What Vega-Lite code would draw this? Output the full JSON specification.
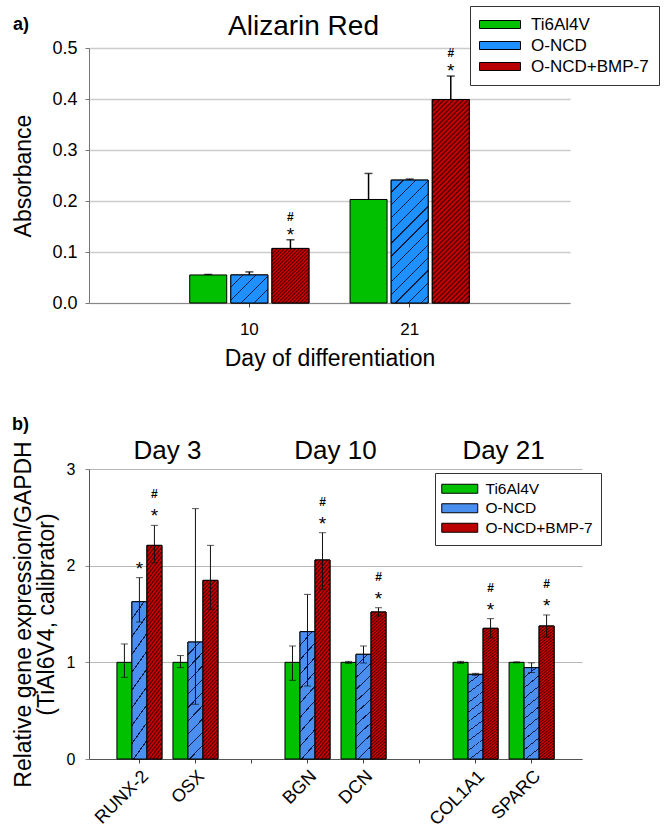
{
"$schema": "https://vega.github.io/schema/vega-lite/v6.json",
"padding": {"left": 12, "top": 5, "right": 2, "bottom": 0},
"spacing": 45,
"resolve": {"scale": {"color": "independent", "xOffset": "independent"}},
"config": {
  "font": "Liberation Sans",
  "view": {"stroke": null},
  "axis": {"labelFont": "Liberation Sans", "titleFont": "Liberation Sans", "labelColor": "#000", "titleColor": "#000"},
  "legend": {"labelFont": "Liberation Sans", "labelColor": "#000"},
  "title": {"font": "Liberation Sans", "color": "#000"},
  "text": {"font": "Liberation Sans", "color": "#000"}
},
"vconcat": [
{
  "title": {"text": "a)", "anchor": "start", "frame": "bounds", "fontSize": 18, "fontWeight": "bold", "offset": 0, "dy": 28},
  "resolve": {"scale": {"color": "independent", "xOffset": "independent"}},
  "vconcat": [
  {
    "width": 481,
    "height": 255,
    "title": {"text": "Alizarin Red", "fontSize": 28, "fontWeight": "normal", "anchor": "middle", "dx": -26, "dy": 43, "offset": 8},
    "data": {"values": [
      {"day": "10", "group": "Ti6Al4V", "value": 0.055, "upper": 0.056, "star": "", "hash": ""},
      {"day": "10", "group": "O-NCD", "value": 0.055, "upper": 0.061, "star": "", "hash": ""},
      {"day": "10", "group": "O-NCD+BMP-7", "value": 0.107, "upper": 0.124, "star": "*", "hash": "#"},
      {"day": "21", "group": "Ti6Al4V", "value": 0.203, "upper": 0.254, "star": "", "hash": ""},
      {"day": "21", "group": "O-NCD", "value": 0.241, "upper": 0.243, "star": "", "hash": ""},
      {"day": "21", "group": "O-NCD+BMP-7", "value": 0.399, "upper": 0.445, "star": "*", "hash": "#"}
    ]},
    "encoding": {
      "x": {"field": "day", "type": "nominal", "scale": {"paddingInner": 0, "paddingOuter": 0.5}, "title": "Day of differentiation",
            "axis": {"labelAngle": 0, "labelFontSize": 17, "tickSize": 4, "labelPadding": 14, "domainColor": "#888", "tickColor": "#444", "titleFontSize": 23, "titleFontWeight": "normal", "titlePadding": 10}},
      "xOffset": {"field": "group", "type": "nominal", "scale": {"domain": ["Ti6Al4V", "O-NCD", "O-NCD+BMP-7"], "paddingInner": 0.1, "paddingOuter": 0.5}}
    },
    "layer": [
      {"mark": {"type": "bar", "stroke": "#000", "strokeWidth": 1},
       "encoding": {
         "y": {"field": "value", "type": "quantitative", "scale": {"domain": [0, 0.5], "nice": false}, "title": "Absorbance",
               "axis": {"values": [0, 0.1, 0.2, 0.3, 0.4, 0.5], "format": ".1f", "labelFontSize": 18, "tickSize": 4, "labelPadding": 8, "gridColor": "#cccccc", "gridWidth": 1.5, "domainColor": "#777", "tickColor": "#777", "titleFontSize": 23, "titleFontWeight": "normal", "titlePadding": 16}},
         "color": {"field": "group", "type": "nominal", "scale": {"domain": ["Ti6Al4V", "O-NCD", "O-NCD+BMP-7"], "range": ["#00c000", "#1e90ff", "#b80000"]},
           "legend": {"orient": "none", "legendX": 381, "legendY": -42, "title": null, "strokeColor": "#333", "fillColor": "#fff", "padding": 10,
             "symbolType": "M-1.8,-0.8H6.4V0.8H-1.8Z", "symbolSize": 100, "symbolStrokeColor": "#000", "symbolStrokeWidth": 1, "labelFontSize": 17, "labelOffset": 34, "rowPadding": 3}}
       }},
      {"transform": [{"filter": "datum.day === '10' && datum.group === 'O-NCD'"}],
       "mark": {"type": "bar", "stroke": "#000", "strokeWidth": 1, "fill": {"gradient": "linear", "x1": 0, "y1": 0, "x2": 1.12, "y2": 0.84, "stops": [
         {"offset": 0, "color": "#1e90ff"}, {"offset": 0.18, "color": "#1e90ff"}, {"offset": 0.18, "color": "#0a1a40"}, {"offset": 0.2, "color": "#0a1a40"},
         {"offset": 0.2, "color": "#1e90ff"}, {"offset": 0.38, "color": "#1e90ff"}, {"offset": 0.38, "color": "#0a1a40"}, {"offset": 0.4, "color": "#0a1a40"},
         {"offset": 0.4, "color": "#1e90ff"}, {"offset": 0.58, "color": "#1e90ff"}, {"offset": 0.58, "color": "#0a1a40"}, {"offset": 0.6, "color": "#0a1a40"},
         {"offset": 0.6, "color": "#1e90ff"}, {"offset": 0.78, "color": "#1e90ff"}, {"offset": 0.78, "color": "#0a1a40"}, {"offset": 0.8, "color": "#0a1a40"},
         {"offset": 0.8, "color": "#1e90ff"}, {"offset": 0.98, "color": "#1e90ff"}, {"offset": 0.98, "color": "#0a1a40"}, {"offset": 1, "color": "#0a1a40"}]}},
       "encoding": {"y": {"field": "value", "type": "quantitative"}}},
      {"transform": [{"filter": "datum.day === '21' && datum.group === 'O-NCD'"}],
       "mark": {"type": "bar", "stroke": "#000", "strokeWidth": 1, "fill": {"gradient": "linear", "x1": 0, "y1": 0, "x2": 0.3594, "y2": 1.193, "stops": [
         {"offset": 0, "color": "#1e90ff"}, {"offset": 0.072, "color": "#1e90ff"}, {"offset": 0.072, "color": "#0a1a40"}, {"offset": 0.08, "color": "#0a1a40"},
         {"offset": 0.08, "color": "#1e90ff"}, {"offset": 0.152, "color": "#1e90ff"}, {"offset": 0.152, "color": "#0a1a40"}, {"offset": 0.16, "color": "#0a1a40"},
         {"offset": 0.16, "color": "#1e90ff"}, {"offset": 0.232, "color": "#1e90ff"}, {"offset": 0.232, "color": "#0a1a40"}, {"offset": 0.24, "color": "#0a1a40"},
         {"offset": 0.24, "color": "#1e90ff"}, {"offset": 0.312, "color": "#1e90ff"}, {"offset": 0.312, "color": "#0a1a40"}, {"offset": 0.32, "color": "#0a1a40"},
         {"offset": 0.32, "color": "#1e90ff"}, {"offset": 0.392, "color": "#1e90ff"}, {"offset": 0.392, "color": "#0a1a40"}, {"offset": 0.4, "color": "#0a1a40"},
         {"offset": 0.4, "color": "#1e90ff"}, {"offset": 0.472, "color": "#1e90ff"}, {"offset": 0.472, "color": "#0a1a40"}, {"offset": 0.48, "color": "#0a1a40"},
         {"offset": 0.48, "color": "#1e90ff"}, {"offset": 0.552, "color": "#1e90ff"}, {"offset": 0.552, "color": "#0a1a40"}, {"offset": 0.56, "color": "#0a1a40"},
         {"offset": 0.56, "color": "#1e90ff"}, {"offset": 0.632, "color": "#1e90ff"}, {"offset": 0.632, "color": "#0a1a40"}, {"offset": 0.64, "color": "#0a1a40"},
         {"offset": 0.64, "color": "#1e90ff"}, {"offset": 0.712, "color": "#1e90ff"}, {"offset": 0.712, "color": "#0a1a40"}, {"offset": 0.72, "color": "#0a1a40"},
         {"offset": 0.72, "color": "#1e90ff"}, {"offset": 0.792, "color": "#1e90ff"}, {"offset": 0.792, "color": "#0a1a40"}, {"offset": 0.8, "color": "#0a1a40"},
         {"offset": 0.8, "color": "#1e90ff"}, {"offset": 0.872, "color": "#1e90ff"}, {"offset": 0.872, "color": "#0a1a40"}, {"offset": 0.88, "color": "#0a1a40"},
         {"offset": 0.88, "color": "#1e90ff"}, {"offset": 0.952, "color": "#1e90ff"}, {"offset": 0.952, "color": "#0a1a40"}, {"offset": 0.96, "color": "#0a1a40"},
         {"offset": 0.96, "color": "#1e90ff"}, {"offset": 1, "color": "#1e90ff"}]}},
       "encoding": {"y": {"field": "value", "type": "quantitative"}}},
      {"transform": [{"filter": "datum.day === '10' && datum.group === 'O-NCD+BMP-7'"}],
       "mark": {"type": "bar", "stroke": "#000", "strokeWidth": 1, "fill": {"gradient": "linear", "x1": 0, "y1": 0, "x2": 0.7789, "y2": 1.1497, "stops": [
         {"offset": 0, "color": "#e60000"}, {"offset": 0.02, "color": "#480000"}, {"offset": 0.04, "color": "#e60000"}, {"offset": 0.06, "color": "#480000"},
         {"offset": 0.08, "color": "#e60000"}, {"offset": 0.1, "color": "#480000"}, {"offset": 0.12, "color": "#e60000"}, {"offset": 0.14, "color": "#480000"},
         {"offset": 0.16, "color": "#e60000"}, {"offset": 0.18, "color": "#480000"}, {"offset": 0.2, "color": "#e60000"}, {"offset": 0.22, "color": "#480000"},
         {"offset": 0.24, "color": "#e60000"}, {"offset": 0.26, "color": "#480000"}, {"offset": 0.28, "color": "#e60000"}, {"offset": 0.3, "color": "#480000"},
         {"offset": 0.32, "color": "#e60000"}, {"offset": 0.34, "color": "#480000"}, {"offset": 0.36, "color": "#e60000"}, {"offset": 0.38, "color": "#480000"},
         {"offset": 0.4, "color": "#e60000"}, {"offset": 0.42, "color": "#480000"}, {"offset": 0.44, "color": "#e60000"}, {"offset": 0.46, "color": "#480000"},
         {"offset": 0.48, "color": "#e60000"}, {"offset": 0.5, "color": "#480000"}, {"offset": 0.52, "color": "#e60000"}, {"offset": 0.54, "color": "#480000"},
         {"offset": 0.56, "color": "#e60000"}, {"offset": 0.58, "color": "#480000"}, {"offset": 0.6, "color": "#e60000"}, {"offset": 0.62, "color": "#480000"},
         {"offset": 0.64, "color": "#e60000"}, {"offset": 0.66, "color": "#480000"}, {"offset": 0.68, "color": "#e60000"}, {"offset": 0.7, "color": "#480000"},
         {"offset": 0.72, "color": "#e60000"}, {"offset": 0.74, "color": "#480000"}, {"offset": 0.76, "color": "#e60000"}, {"offset": 0.78, "color": "#480000"},
         {"offset": 0.8, "color": "#e60000"}, {"offset": 0.82, "color": "#480000"}, {"offset": 0.84, "color": "#e60000"}, {"offset": 0.86, "color": "#480000"},
         {"offset": 0.88, "color": "#e60000"}, {"offset": 0.9, "color": "#480000"}, {"offset": 0.92, "color": "#e60000"}, {"offset": 0.94, "color": "#480000"},
         {"offset": 0.96, "color": "#e60000"}, {"offset": 0.98, "color": "#480000"}, {"offset": 1, "color": "#e60000"}]}},
       "encoding": {"y": {"field": "value", "type": "quantitative"}}},
      {"transform": [{"filter": "datum.day === '21' && datum.group === 'O-NCD+BMP-7'"}],
       "mark": {"type": "bar", "stroke": "#000", "strokeWidth": 1, "fill": {"gradient": "linear", "x1": 0, "y1": 0, "x2": 0.208, "y2": 1.144, "stops": [
         {"offset": 0, "color": "#e60000"}, {"offset": 0.01, "color": "#480000"}, {"offset": 0.02, "color": "#e60000"}, {"offset": 0.03, "color": "#480000"},
         {"offset": 0.04, "color": "#e60000"}, {"offset": 0.05, "color": "#480000"}, {"offset": 0.06, "color": "#e60000"}, {"offset": 0.07, "color": "#480000"},
         {"offset": 0.08, "color": "#e60000"}, {"offset": 0.09, "color": "#480000"}, {"offset": 0.1, "color": "#e60000"}, {"offset": 0.11, "color": "#480000"},
         {"offset": 0.12, "color": "#e60000"}, {"offset": 0.13, "color": "#480000"}, {"offset": 0.14, "color": "#e60000"}, {"offset": 0.15, "color": "#480000"},
         {"offset": 0.16, "color": "#e60000"}, {"offset": 0.17, "color": "#480000"}, {"offset": 0.18, "color": "#e60000"}, {"offset": 0.19, "color": "#480000"},
         {"offset": 0.2, "color": "#e60000"}, {"offset": 0.21, "color": "#480000"}, {"offset": 0.22, "color": "#e60000"}, {"offset": 0.23, "color": "#480000"},
         {"offset": 0.24, "color": "#e60000"}, {"offset": 0.25, "color": "#480000"}, {"offset": 0.26, "color": "#e60000"}, {"offset": 0.27, "color": "#480000"},
         {"offset": 0.28, "color": "#e60000"}, {"offset": 0.29, "color": "#480000"}, {"offset": 0.3, "color": "#e60000"}, {"offset": 0.31, "color": "#480000"},
         {"offset": 0.32, "color": "#e60000"}, {"offset": 0.33, "color": "#480000"}, {"offset": 0.34, "color": "#e60000"}, {"offset": 0.35, "color": "#480000"},
         {"offset": 0.36, "color": "#e60000"}, {"offset": 0.37, "color": "#480000"}, {"offset": 0.38, "color": "#e60000"}, {"offset": 0.39, "color": "#480000"},
         {"offset": 0.4, "color": "#e60000"}, {"offset": 0.41, "color": "#480000"}, {"offset": 0.42, "color": "#e60000"}, {"offset": 0.43, "color": "#480000"},
         {"offset": 0.44, "color": "#e60000"}, {"offset": 0.45, "color": "#480000"}, {"offset": 0.46, "color": "#e60000"}, {"offset": 0.47, "color": "#480000"},
         {"offset": 0.48, "color": "#e60000"}, {"offset": 0.49, "color": "#480000"}, {"offset": 0.5, "color": "#e60000"}, {"offset": 0.51, "color": "#480000"},
         {"offset": 0.52, "color": "#e60000"}, {"offset": 0.53, "color": "#480000"}, {"offset": 0.54, "color": "#e60000"}, {"offset": 0.55, "color": "#480000"},
         {"offset": 0.56, "color": "#e60000"}, {"offset": 0.57, "color": "#480000"}, {"offset": 0.58, "color": "#e60000"}, {"offset": 0.59, "color": "#480000"},
         {"offset": 0.6, "color": "#e60000"}, {"offset": 0.61, "color": "#480000"}, {"offset": 0.62, "color": "#e60000"}, {"offset": 0.63, "color": "#480000"},
         {"offset": 0.64, "color": "#e60000"}, {"offset": 0.65, "color": "#480000"}, {"offset": 0.66, "color": "#e60000"}, {"offset": 0.67, "color": "#480000"},
         {"offset": 0.68, "color": "#e60000"}, {"offset": 0.69, "color": "#480000"}, {"offset": 0.7, "color": "#e60000"}, {"offset": 0.71, "color": "#480000"},
         {"offset": 0.72, "color": "#e60000"}, {"offset": 0.73, "color": "#480000"}, {"offset": 0.74, "color": "#e60000"}, {"offset": 0.75, "color": "#480000"},
         {"offset": 0.76, "color": "#e60000"}, {"offset": 0.77, "color": "#480000"}, {"offset": 0.78, "color": "#e60000"}, {"offset": 0.79, "color": "#480000"},
         {"offset": 0.8, "color": "#e60000"}, {"offset": 0.81, "color": "#480000"}, {"offset": 0.82, "color": "#e60000"}, {"offset": 0.83, "color": "#480000"},
         {"offset": 0.84, "color": "#e60000"}, {"offset": 0.85, "color": "#480000"}, {"offset": 0.86, "color": "#e60000"}, {"offset": 0.87, "color": "#480000"},
         {"offset": 0.88, "color": "#e60000"}, {"offset": 0.89, "color": "#480000"}, {"offset": 0.9, "color": "#e60000"}, {"offset": 0.91, "color": "#480000"},
         {"offset": 0.92, "color": "#e60000"}, {"offset": 0.93, "color": "#480000"}, {"offset": 0.94, "color": "#e60000"}, {"offset": 0.95, "color": "#480000"},
         {"offset": 0.96, "color": "#e60000"}, {"offset": 0.97, "color": "#480000"}, {"offset": 0.98, "color": "#e60000"}, {"offset": 0.99, "color": "#480000"},
         {"offset": 1, "color": "#e60000"}]}},
       "encoding": {"y": {"field": "value", "type": "quantitative"}}},
      {"mark": {"type": "rule", "color": "#000", "strokeWidth": 1.5},
       "encoding": {"y": {"field": "value", "type": "quantitative"}, "y2": {"field": "upper"}}},
      {"mark": {"type": "tick", "orient": "horizontal", "size": 8, "thickness": 1.5, "color": "#000"},
       "encoding": {"y": {"field": "upper", "type": "quantitative"}}},
      {"mark": {"type": "text", "fontSize": 19, "baseline": "alphabetic", "dy": 1, "color": "#000"},
       "encoding": {"y": {"field": "upper", "type": "quantitative"}, "text": {"field": "star"}}},
      {"mark": {"type": "text", "fontSize": 12, "fontWeight": "bold", "baseline": "alphabetic", "dy": -19, "color": "#000"},
       "encoding": {"y": {"field": "upper", "type": "quantitative"}, "text": {"field": "hash"}}}
    ]
  }]
},
{
  "title": {"text": "b)", "anchor": "start", "frame": "bounds", "fontSize": 18, "fontWeight": "bold", "offset": 4},
  "resolve": {"scale": {"color": "independent", "xOffset": "independent"}},
  "vconcat": [
  {
    "width": 493,
    "height": 290,
    "resolve": {"scale": {"xOffset": "shared"}},
    "layer": [
    {
      "data": {"values": [
        {"gene": "RUNX-2", "group": "Ti6Al4V", "value": 1.0, "lower": 0.845, "upper": 1.19, "star": "", "hash": ""},
        {"gene": "RUNX-2", "group": "O-NCD", "value": 1.627, "lower": 1.417, "upper": 1.876, "star": "*", "hash": ""},
        {"gene": "RUNX-2", "group": "O-NCD+BMP-7", "value": 2.21, "lower": 2.03, "upper": 2.417, "star": "*", "hash": "#"},
        {"gene": "OSX", "group": "Ti6Al4V", "value": 1.0, "lower": 0.945, "upper": 1.07, "star": "", "hash": ""},
        {"gene": "OSX", "group": "O-NCD", "value": 1.21, "lower": 0.566, "upper": 2.59, "star": "", "hash": ""},
        {"gene": "OSX", "group": "O-NCD+BMP-7", "value": 1.848, "lower": 1.549, "upper": 2.21, "star": "", "hash": ""},
        {"gene": "BGN", "group": "Ti6Al4V", "value": 1.0, "lower": 0.814, "upper": 1.169, "star": "", "hash": ""},
        {"gene": "BGN", "group": "O-NCD", "value": 1.317, "lower": 0.755, "upper": 1.703, "star": "", "hash": ""},
        {"gene": "BGN", "group": "O-NCD+BMP-7", "value": 2.059, "lower": 1.755, "upper": 2.341, "star": "*", "hash": "#"},
        {"gene": "DCN", "group": "Ti6Al4V", "value": 1.0, "lower": 0.99, "upper": 1.01, "star": "", "hash": ""},
        {"gene": "DCN", "group": "O-NCD", "value": 1.083, "lower": 0.993, "upper": 1.169, "star": "", "hash": ""},
        {"gene": "DCN", "group": "O-NCD+BMP-7", "value": 1.521, "lower": 1.479, "upper": 1.565, "star": "*", "hash": "#"},
        {"gene": "COL1A1", "group": "Ti6Al4V", "value": 1.0, "lower": 0.99, "upper": 1.01, "star": "", "hash": ""},
        {"gene": "COL1A1", "group": "O-NCD", "value": 0.876, "lower": 0.866, "upper": 0.886, "star": "", "hash": ""},
        {"gene": "COL1A1", "group": "O-NCD+BMP-7", "value": 1.352, "lower": 1.252, "upper": 1.452, "star": "*", "hash": "#"},
        {"gene": "SPARC", "group": "Ti6Al4V", "value": 1.0, "lower": 0.995, "upper": 1.005, "star": "", "hash": ""},
        {"gene": "SPARC", "group": "O-NCD", "value": 0.945, "lower": 0.895, "upper": 0.995, "star": "", "hash": ""},
        {"gene": "SPARC", "group": "O-NCD+BMP-7", "value": 1.376, "lower": 1.262, "upper": 1.49, "star": "*", "hash": "#"}
      ]},
      "encoding": {
        "x": {"field": "gene", "type": "nominal", "title": null,
              "scale": {"domain": ["RUNX-2", "OSX", "s1", "BGN", "DCN", "s2", "COL1A1", "SPARC"], "paddingInner": 0, "paddingOuter": 0.4},
              "axis": {"labelAngle": -45, "labelAlign": "right", "labelBaseline": "top", "labelFontSize": 18, "labelPadding": 4, "tickSize": 4, "domainColor": "#555", "tickColor": "#444",
                       "labelExpr": "datum.value == 's1' || datum.value == 's2' ? '' : datum.value"}},
        "xOffset": {"field": "group", "type": "nominal", "scale": {"domain": ["Ti6Al4V", "O-NCD", "O-NCD+BMP-7"], "paddingInner": 0, "paddingOuter": 0.367}}
      },
      "layer": [
        {"mark": {"type": "bar", "stroke": "#000", "strokeWidth": 1},
         "encoding": {
           "y": {"field": "value", "type": "quantitative", "scale": {"domain": [0, 3], "nice": false}, "title": ["Relative gene expression/GAPDH", "(TiAl6V4, calibrator)"],
                 "axis": {"values": [0, 1, 2, 3], "format": "d", "labelFontSize": 16, "tickSize": 4, "labelPadding": 10, "gridColor": "#b8b8b8", "gridWidth": 1, "domainColor": "#555", "tickColor": "#888", "titleFontSize": 23, "titleFontWeight": "normal", "titlePadding": 8, "titleLineHeight": 23}},
           "color": {"field": "group", "type": "nominal", "scale": {"domain": ["Ti6Al4V", "O-NCD", "O-NCD+BMP-7"], "range": ["#00c000", "#4a8ff0", "#b80000"]},
             "legend": {"orient": "none", "legendX": 346, "legendY": 4, "title": null, "strokeColor": "#333", "fillColor": "#fff", "padding": 8,
               "symbolType": "M-1.8,-0.9H5.4V0.9H-1.8Z", "symbolSize": 100, "symbolStrokeColor": "#000", "symbolStrokeWidth": 1, "labelFontSize": 15.5, "labelOffset": 27, "rowPadding": 2.5}}
         }},
        {"transform": [{"filter": "datum.group === 'O-NCD'"}],
         "mark": {"type": "bar", "stroke": "#000", "strokeWidth": 1, "fill": {"gradient": "linear", "x1": 0, "y1": 0, "x2": 0.1485, "y2": 1.1135, "stops": [
           {"offset": 0, "color": "#4a8ff0"}, {"offset": 0.09, "color": "#4a8ff0"}, {"offset": 0.09, "color": "#0a1a40"}, {"offset": 0.1, "color": "#0a1a40"},
           {"offset": 0.1, "color": "#4a8ff0"}, {"offset": 0.19, "color": "#4a8ff0"}, {"offset": 0.19, "color": "#0a1a40"}, {"offset": 0.2, "color": "#0a1a40"},
           {"offset": 0.2, "color": "#4a8ff0"}, {"offset": 0.29, "color": "#4a8ff0"}, {"offset": 0.29, "color": "#0a1a40"}, {"offset": 0.3, "color": "#0a1a40"},
           {"offset": 0.3, "color": "#4a8ff0"}, {"offset": 0.39, "color": "#4a8ff0"}, {"offset": 0.39, "color": "#0a1a40"}, {"offset": 0.4, "color": "#0a1a40"},
           {"offset": 0.4, "color": "#4a8ff0"}, {"offset": 0.49, "color": "#4a8ff0"}, {"offset": 0.49, "color": "#0a1a40"}, {"offset": 0.5, "color": "#0a1a40"},
           {"offset": 0.5, "color": "#4a8ff0"}, {"offset": 0.59, "color": "#4a8ff0"}, {"offset": 0.59, "color": "#0a1a40"}, {"offset": 0.6, "color": "#0a1a40"},
           {"offset": 0.6, "color": "#4a8ff0"}, {"offset": 0.69, "color": "#4a8ff0"}, {"offset": 0.69, "color": "#0a1a40"}, {"offset": 0.7, "color": "#0a1a40"},
           {"offset": 0.7, "color": "#4a8ff0"}, {"offset": 0.79, "color": "#4a8ff0"}, {"offset": 0.79, "color": "#0a1a40"}, {"offset": 0.8, "color": "#0a1a40"},
           {"offset": 0.8, "color": "#4a8ff0"}, {"offset": 0.89, "color": "#4a8ff0"}, {"offset": 0.89, "color": "#0a1a40"}, {"offset": 0.9, "color": "#0a1a40"},
           {"offset": 0.9, "color": "#4a8ff0"}, {"offset": 0.99, "color": "#4a8ff0"}, {"offset": 0.99, "color": "#0a1a40"}, {"offset": 1, "color": "#0a1a40"}]}},
         "encoding": {"y": {"field": "value", "type": "quantitative"}}},
        {"transform": [{"filter": "datum.group === 'O-NCD+BMP-7'"}],
         "mark": {"type": "bar", "stroke": "#000", "strokeWidth": 1, "fill": {"gradient": "linear", "x1": 0, "y1": 0, "x2": 0.0984, "y2": 1.082, "stops": [
           {"offset": 0, "color": "#e60000"}, {"offset": 0.01, "color": "#480000"}, {"offset": 0.02, "color": "#e60000"}, {"offset": 0.03, "color": "#480000"},
           {"offset": 0.04, "color": "#e60000"}, {"offset": 0.05, "color": "#480000"}, {"offset": 0.06, "color": "#e60000"}, {"offset": 0.07, "color": "#480000"},
           {"offset": 0.08, "color": "#e60000"}, {"offset": 0.09, "color": "#480000"}, {"offset": 0.1, "color": "#e60000"}, {"offset": 0.11, "color": "#480000"},
           {"offset": 0.12, "color": "#e60000"}, {"offset": 0.13, "color": "#480000"}, {"offset": 0.14, "color": "#e60000"}, {"offset": 0.15, "color": "#480000"},
           {"offset": 0.16, "color": "#e60000"}, {"offset": 0.17, "color": "#480000"}, {"offset": 0.18, "color": "#e60000"}, {"offset": 0.19, "color": "#480000"},
           {"offset": 0.2, "color": "#e60000"}, {"offset": 0.21, "color": "#480000"}, {"offset": 0.22, "color": "#e60000"}, {"offset": 0.23, "color": "#480000"},
           {"offset": 0.24, "color": "#e60000"}, {"offset": 0.25, "color": "#480000"}, {"offset": 0.26, "color": "#e60000"}, {"offset": 0.27, "color": "#480000"},
           {"offset": 0.28, "color": "#e60000"}, {"offset": 0.29, "color": "#480000"}, {"offset": 0.3, "color": "#e60000"}, {"offset": 0.31, "color": "#480000"},
           {"offset": 0.32, "color": "#e60000"}, {"offset": 0.33, "color": "#480000"}, {"offset": 0.34, "color": "#e60000"}, {"offset": 0.35, "color": "#480000"},
           {"offset": 0.36, "color": "#e60000"}, {"offset": 0.37, "color": "#480000"}, {"offset": 0.38, "color": "#e60000"}, {"offset": 0.39, "color": "#480000"},
           {"offset": 0.4, "color": "#e60000"}, {"offset": 0.41, "color": "#480000"}, {"offset": 0.42, "color": "#e60000"}, {"offset": 0.43, "color": "#480000"},
           {"offset": 0.44, "color": "#e60000"}, {"offset": 0.45, "color": "#480000"}, {"offset": 0.46, "color": "#e60000"}, {"offset": 0.47, "color": "#480000"},
           {"offset": 0.48, "color": "#e60000"}, {"offset": 0.49, "color": "#480000"}, {"offset": 0.5, "color": "#e60000"}, {"offset": 0.51, "color": "#480000"},
           {"offset": 0.52, "color": "#e60000"}, {"offset": 0.53, "color": "#480000"}, {"offset": 0.54, "color": "#e60000"}, {"offset": 0.55, "color": "#480000"},
           {"offset": 0.56, "color": "#e60000"}, {"offset": 0.57, "color": "#480000"}, {"offset": 0.58, "color": "#e60000"}, {"offset": 0.59, "color": "#480000"},
           {"offset": 0.6, "color": "#e60000"}, {"offset": 0.61, "color": "#480000"}, {"offset": 0.62, "color": "#e60000"}, {"offset": 0.63, "color": "#480000"},
           {"offset": 0.64, "color": "#e60000"}, {"offset": 0.65, "color": "#480000"}, {"offset": 0.66, "color": "#e60000"}, {"offset": 0.67, "color": "#480000"},
           {"offset": 0.68, "color": "#e60000"}, {"offset": 0.69, "color": "#480000"}, {"offset": 0.7, "color": "#e60000"}, {"offset": 0.71, "color": "#480000"},
           {"offset": 0.72, "color": "#e60000"}, {"offset": 0.73, "color": "#480000"}, {"offset": 0.74, "color": "#e60000"}, {"offset": 0.75, "color": "#480000"},
           {"offset": 0.76, "color": "#e60000"}, {"offset": 0.77, "color": "#480000"}, {"offset": 0.78, "color": "#e60000"}, {"offset": 0.79, "color": "#480000"},
           {"offset": 0.8, "color": "#e60000"}, {"offset": 0.81, "color": "#480000"}, {"offset": 0.82, "color": "#e60000"}, {"offset": 0.83, "color": "#480000"},
           {"offset": 0.84, "color": "#e60000"}, {"offset": 0.85, "color": "#480000"}, {"offset": 0.86, "color": "#e60000"}, {"offset": 0.87, "color": "#480000"},
           {"offset": 0.88, "color": "#e60000"}, {"offset": 0.89, "color": "#480000"}, {"offset": 0.9, "color": "#e60000"}, {"offset": 0.91, "color": "#480000"},
           {"offset": 0.92, "color": "#e60000"}, {"offset": 0.93, "color": "#480000"}, {"offset": 0.94, "color": "#e60000"}, {"offset": 0.95, "color": "#480000"},
           {"offset": 0.96, "color": "#e60000"}, {"offset": 0.97, "color": "#480000"}, {"offset": 0.98, "color": "#e60000"}, {"offset": 0.99, "color": "#480000"},
           {"offset": 1, "color": "#e60000"}]}},
         "encoding": {"y": {"field": "value", "type": "quantitative"}}},
        {"mark": {"type": "rule", "color": "#111", "strokeWidth": 1},
         "encoding": {"y": {"field": "lower", "type": "quantitative"}, "y2": {"field": "upper"}}},
        {"mark": {"type": "tick", "orient": "horizontal", "size": 7, "thickness": 1, "color": "#111"},
         "encoding": {"y": {"field": "lower", "type": "quantitative"}}},
        {"mark": {"type": "tick", "orient": "horizontal", "size": 7, "thickness": 1, "color": "#111"},
         "encoding": {"y": {"field": "upper", "type": "quantitative"}}},
        {"mark": {"type": "text", "fontSize": 19, "baseline": "alphabetic", "dy": -3, "color": "#000"},
         "encoding": {"y": {"field": "upper", "type": "quantitative"}, "text": {"field": "star"}}},
        {"mark": {"type": "text", "fontSize": 12, "fontWeight": "bold", "baseline": "alphabetic", "dy": -27, "color": "#000"},
         "encoding": {"y": {"field": "upper", "type": "quantitative"}, "text": {"field": "hash"}}}
      ]
    },
    {
      "data": {"values": [
        {"gene": "RUNX-2", "day": "Day 3"},
        {"gene": "BGN", "day": "Day 10"},
        {"gene": "COL1A1", "day": "Day 21"}
      ]},
      "mark": {"type": "text", "fontSize": 26, "baseline": "middle", "align": "center", "color": "#000"},
      "encoding": {
        "x": {"field": "gene", "type": "nominal", "bandPosition": 1},
        "y": {"datum": 3.19, "type": "quantitative"},
        "text": {"field": "day"}
      }
    }
    ]
  }]
}
]
}
